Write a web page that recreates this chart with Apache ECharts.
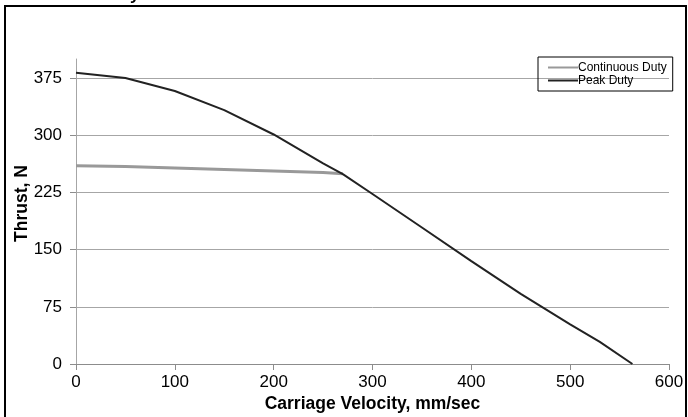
<!DOCTYPE html>
<html>
<head>
<meta charset="utf-8">
<script src="https://cdn.jsdelivr.net/npm/echarts@6/dist/echarts.min.js"></script>
<style>html,body{margin:0;padding:0;background:#fff}#c{width:688px;height:417px}</style>
</head>
<body>
<div id="c"></div>
<script>
var xLabelTicks = [0, 100, 200, 300, 400, 500, 600];
var yLabelTicks = [0, 75, 150, 225, 300, 375];
var peakVel = [0, 50, 100, 150, 200, 250, 270, 300, 350, 400, 450, 500, 530, 563];
var peakThrust = [382, 375, 358, 333, 301, 263, 249, 223, 179, 135, 92, 52, 29, 0];
var contVel = [0, 50, 100, 150, 200, 250, 270];
var contThrust = [260, 259, 257, 255, 253, 251, 249.5];

function pairs(xs, ys) { return xs.map(function (x, i) { return [x, ys[i]]; }); }

var lineIcon = 'path://M0,0 L30,0 L30,2 L0,2 Z';

var chart = echarts.init(document.getElementById('c'));
chart.setOption({
  animation: false,
  backgroundColor: '#fff',
  textStyle: { fontFamily: 'Liberation Sans, Arial, sans-serif' },
  grid: { left: 76, right: 19, top: 59, bottom: 53, containLabel: false, outerBoundsMode: 'none' },
  graphic: [
    { type: 'rect', shape: { x: 5, y: 6, width: 681, height: 420 }, style: { fill: 'none', stroke: '#000', lineWidth: 2 }, z: 100 },
    { type: 'text', left: 130, top: -13, style: { text: 'y', font: 'bold 17px "Liberation Sans", Arial, sans-serif', fill: '#000' }, z: 100 }
  ],
  legend: {
    orient: 'vertical',
    left: 538,
    top: 57,
    itemGap: 0,
    itemWidth: 30,
    itemHeight: 2,
    icon: lineIcon,
    padding: [4, 6, 4, 10],
    borderColor: '#000',
    borderWidth: 1,
    textStyle: { fontSize: 12, color: '#000', padding: [0, 0, 0, -5], lineHeight: 13 },
    data: ['Continuous Duty', 'Peak Duty']
  },
  xAxis: {
    type: 'value',
    min: 0, max: 600, interval: 100,
    name: 'Carriage Velocity, mm/sec',
    nameLocation: 'middle',
    nameGap: 31,
    nameMoveOverlap: false,
    nameTextStyle: { fontSize: 17.5, fontWeight: 'bold', color: '#000' },
    axisLine: { show: true, lineStyle: { color: '#8c8c8c', width: 1 } },
    axisTick: { show: true, length: 6, lineStyle: { color: '#8c8c8c' }, customValues: xLabelTicks },
    axisLabel: { fontSize: 17, color: '#000', margin: 10, customValues: xLabelTicks },
    splitLine: { show: false }
  },
  yAxis: {
    type: 'value',
    min: 0, max: 400, interval: 25,
    name: 'Thrust, N',
    nameLocation: 'middle',
    nameGap: 45,
    nameMoveOverlap: false,
    nameTextStyle: { fontSize: 17.5, fontWeight: 'bold', color: '#000', padding: [0, 0, 0, 16] },
    axisLine: { show: true, lineStyle: { color: '#a6a6a6', width: 1 } },
    axisTick: { show: true, inside: false, length: 6, lineStyle: { color: '#8c8c8c' }, customValues: yLabelTicks },
    axisLabel: { fontSize: 17, color: '#000', margin: 14, customValues: yLabelTicks },
    splitLine: { show: false }
  },
  series: [
    {
      name: 'Continuous Duty',
      type: 'line',
      symbol: 'none',
      data: pairs(contVel, contThrust),
      lineStyle: { color: '#999999', width: 3 },
      itemStyle: { color: '#999999' },
      z: 3,
      markLine: {
        silent: true,
        symbol: 'none',
        label: { show: false },
        lineStyle: { color: '#a6a6a6', width: 1, type: 'solid' },
        data: yLabelTicks.slice(1).map(function (v) { return { yAxis: v }; }),
        z: 1
      }
    },
    {
      name: 'Peak Duty',
      type: 'line',
      symbol: 'none',
      data: pairs(peakVel, peakThrust),
      lineStyle: { color: '#222222', width: 2 },
      itemStyle: { color: '#222222' },
      z: 4
    }
  ]
});
</script>
</body>
</html>
